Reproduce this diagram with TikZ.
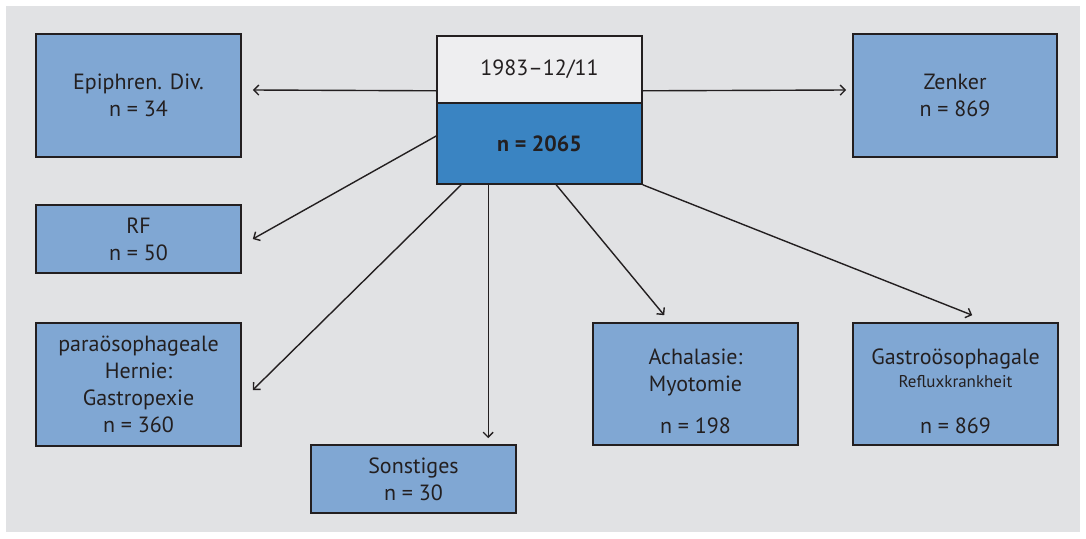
\documentclass[tikz,border=0pt]{standalone}
\usepackage{fontspec}
\setmainfont{PT Sans}
\usetikzlibrary{arrows.meta,calc}
\definecolor{bg}{RGB}{225,226,228}
\definecolor{lblue}{RGB}{128,167,211}
\definecolor{dblue}{RGB}{58,132,194}
\definecolor{topw}{RGB}{238,238,240}
\definecolor{ink}{RGB}{35,31,32}
\tikzset{
  box/.style={draw=ink, line width=1.6pt, fill=lblue, inner sep=0pt, align=center, text=ink,
    font=\fontsize{22}{27}\selectfont},
  arr/.style={draw=ink, line width=1.4pt, -{Straight Barb[length=5pt,width=10pt,line width=1.4pt]}},
}
\begin{document}
\begin{tikzpicture}[x=1pt,y=-1pt]
\useasboundingbox (0,0) rectangle (1086,538);
\fill[bg] (6,6) rectangle (1080,532);
\node[box, fill=topw, minimum width=205pt, minimum height=67pt] (top) at (539.5,69.5) {1983--12/11};
\node[box, fill=dblue, minimum width=205pt, minimum height=81pt] (cnt) at (539.5,143.5) {\bfseries n = 2065};
\node[box, minimum width=205pt, minimum height=123pt] (epi) at (138.5,95.5) {Epiphren. Div.\\n = 34};
\node[box, minimum width=204pt, minimum height=123pt] (zen) at (955,95.5) {Zenker\\n = 869};
\node[box, minimum width=205pt, minimum height=68pt] (rf) at (138.5,239) {RF\\n = 50};
\node[box, minimum width=205pt, minimum height=123pt] (para) at (138.5,384.5) {paraösophageale\\Hernie:\\Gastropexie\\n = 360};
\node[box, minimum width=205pt, minimum height=68pt] (son) at (413.5,479) {Sonstiges\\n = 30};
\node[box, minimum width=205pt, minimum height=122pt] (ach) at (695.5,384) {\rule{0pt}{30pt}Achalasie:\\Myotomie\\[15pt]n = 198};
\node[box, minimum width=205pt, minimum height=122pt] (gas) at (955.5,384) {\rule{0pt}{30pt}Gastroösophagale\\[-4pt]{\fontsize{17}{21}\selectfont Refluxkrankheit}\\[19pt]n = 869};
\draw[arr] ($(top.south west)+(0,-13)$) -- ($(epi.east)+(11,-5.5)$);
\draw[arr] ($(top.south east)+(0,-13)$) -- ($(zen.west)+(-6,-5.5)$);
\draw[arr] ($(cnt.west)+(0,-7.5)$) -- ($(rf.east)+(11,0)$);
\draw[arr] ($(cnt.south west)+(25,0)$) -- ($(para.east)+(11,5.5)$);
\draw[arr] ($(cnt.south west)+(52,0)$) -- ($(son.north west)+(178,-6)$);
\draw[arr] ($(cnt.south west)+(120,0)$) -- ($(ach.north west)+(72,-7)$);
\draw[arr] (cnt.south east) -- ($(gas.north west)+(120,-7)$);
\end{tikzpicture}
\end{document}
